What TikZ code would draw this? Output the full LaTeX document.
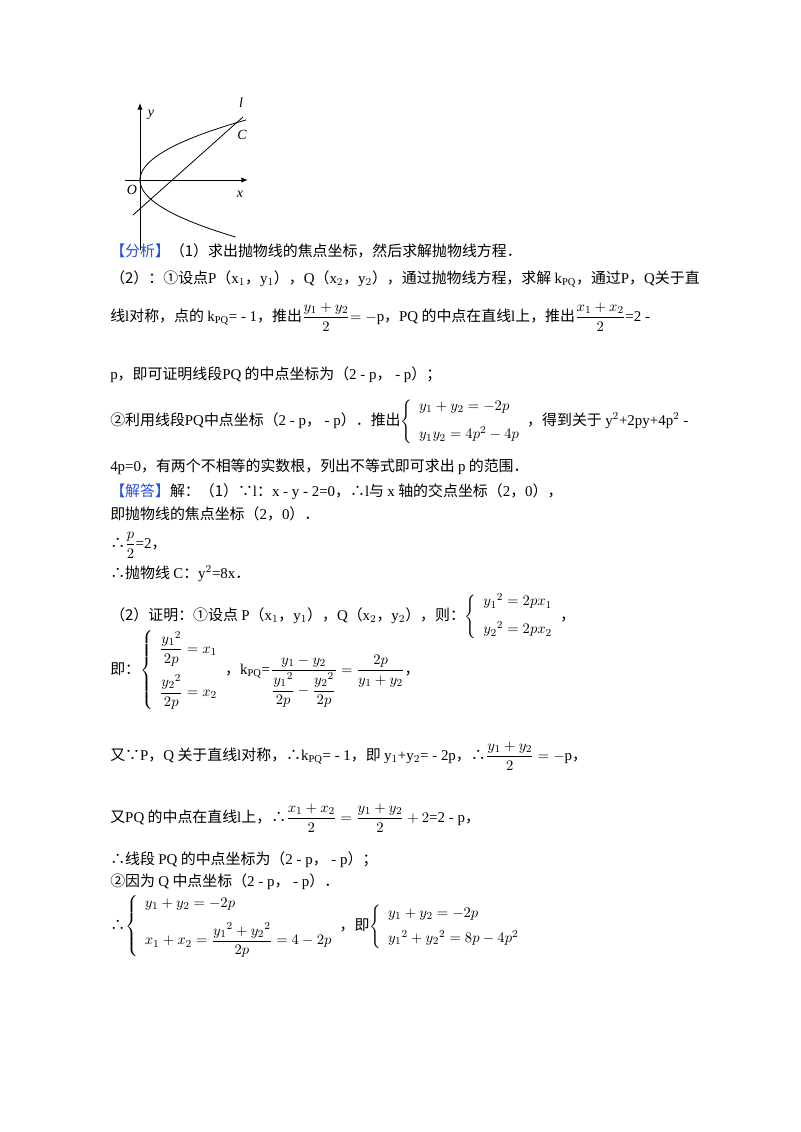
\documentclass[tikz,border=0pt]{standalone}
\usepackage{amsmath}
\usepackage{fontspec}
\setmainfont{Liberation Serif}
\newfontfamily\cjk{Noto Sans CJK SC}
\newcommand{\zh}[1]{{\cjk #1}}
\usetikzlibrary{arrows.meta}
\definecolor{hd}{RGB}{40,80,220}
\begin{document}
\begin{tikzpicture}[x=0.75pt,y=-0.75pt,
  ln/.style={anchor=base west,inner sep=0pt,font=\fontsize{11.2}{13}\selectfont},
  gl/.style={font=\itshape\fontsize{10.5}{12}\selectfont,inner sep=0pt},
  ax/.style={-{Latex[length=5pt,width=4pt]},line width=0.7pt}]
\useasboundingbox[fill=white] (0,0) rectangle (800,1132);
% graph
\draw[ax] (140,250) -- (140,103);
\draw[ax] (125,180) -- (248,180);
\draw[line width=0.6pt,domain=-57:60,samples=80] plot ({140+\x*\x/34},{180-\x});
\draw[line width=0.6pt] (133,215) -- (243,117);
\node[gl] (ylab) at (151,115) {y};
\node[gl] (llab) at (241,103) {l};
\node[gl] (clab) at (242,135) {C};
\node[gl] (xlab) at (240,194) {x};
\node[gl] (olab) at (132,190) {O};
% text
\node[ln] (t1) at (110,256) {{\color{hd}\zh{【分析】}}\zh{（1）求出抛物线的焦点坐标，然后求解抛物线方程．}};
\node[ln] (t2) at (110,283) {\zh{（2）：①设点}P\zh{（}x$_1$\zh{，}y$_1$\zh{），}Q\zh{（}x$_2$\zh{，}y$_2$\zh{），通过抛物线方程，求解 }k$_{\rm PQ}$\zh{，通过}P\zh{，}Q\zh{关于直}};
\node[ln] (t3) at (110,321) {\zh{线}l\zh{对称，点的 }k$_{\rm PQ}$= - 1\zh{，推出}$\dfrac{y_1+y_2}{2}$$=-$p\zh{，}PQ\zh{ 的中点在直线}l\zh{上，推出}$\dfrac{x_1+x_2}{2}$=2 -};
\node[ln] (t4) at (110,379) {p\zh{，即可证明线段}PQ\zh{ 的中点坐标为（}2 - p\zh{，} - p\zh{）；}};
\node[ln] (t5) at (110,425) {\zh{②利用线段}PQ\zh{中点坐标（}2 - p\zh{，} - p\zh{）．推出}$\left\{\begin{array}{l}y_1+y_2=-2p\\[8pt] y_1y_2=4p^2-4p\end{array}\right.$\zh{，得到关于 }y$^2$+2py+4p$^2$ -};
\node[ln] (t6) at (110,471) {4p=0\zh{，有两个不相等的实数根，列出不等式即可求出 }p\zh{ 的范围．}};
\node[ln] (t7) at (110,496) {{\color{hd}\zh{【解答】}}\zh{解：（1）∵}l\zh{：}x - y - 2=0\zh{，∴}l\zh{与 }x\zh{ 轴的交点坐标（}2\zh{，}0\zh{），}};
\node[ln] (t8) at (110,519) {\zh{即抛物线的焦点坐标（}2\zh{，}0\zh{）．}};
\node[ln] (t9) at (110,548) {\zh{∴}$\dfrac{p}{2}$=2\zh{，}};
\node[ln] (t10) at (110,578) {\zh{∴抛物线 }C\zh{：}y$^2$=8x\zh{．}};
\node[ln] (t11) at (110,620) {\zh{（2）证明：①设点 }P\zh{（}x$_1$\zh{，}y$_1$\zh{），}Q\zh{（}x$_2$\zh{，}y$_2$\zh{），则：}$\left\{\begin{array}{l}{y_1}^2=2px_1\\[8pt] {y_2}^2=2px_2\end{array}\right.$\zh{，}};
\node[ln] (t12) at (110,674) {\zh{即：}$\left\{\begin{array}{l}\dfrac{{y_1}^2}{2p}=x_1\\[12pt] \dfrac{{y_2}^2}{2p}=x_2\end{array}\right.$\zh{，}k$_{\rm PQ}$=$\dfrac{y_1-y_2}{\dfrac{{y_1}^2}{2p}-\dfrac{{y_2}^2}{2p}}=\dfrac{2p}{y_1+y_2}$\zh{，}};
\node[ln] (t13) at (110,760) {\zh{又∵}P\zh{，}Q\zh{ 关于直线}l\zh{对称，∴}k$_{\rm PQ}$= - 1\zh{，即 }y$_1$+y$_2$= - 2p\zh{，∴}$\dfrac{y_1+y_2}{2}=-$p\zh{，}};
\node[ln] (t14) at (110,822) {\zh{又}PQ\zh{ 的中点在直线}l\zh{上，∴}$\dfrac{x_1+x_2}{2}=\dfrac{y_1+y_2}{2}+2$=2 - p\zh{，}};
\node[ln] (t15) at (110,864) {\zh{∴线段 }PQ\zh{ 的中点坐标为（}2 - p\zh{，} - p\zh{）；}};
\node[ln] (t16) at (110,886) {\zh{②因为 }Q\zh{ 中点坐标（}2 - p\zh{，} - p\zh{）．}};
\node[ln] (t17) at (110,930) {\zh{∴}$\left\{\begin{array}{l}y_1+y_2=-2p\\[8pt] x_1+x_2=\dfrac{{y_1}^2+{y_2}^2}{2p}=4-2p\end{array}\right.$\zh{，即}$\left\{\begin{array}{l}y_1+y_2=-2p\\[6pt] {y_1}^2+{y_2}^2=8p-4p^2\end{array}\right.$};
\end{tikzpicture}
\end{document}
